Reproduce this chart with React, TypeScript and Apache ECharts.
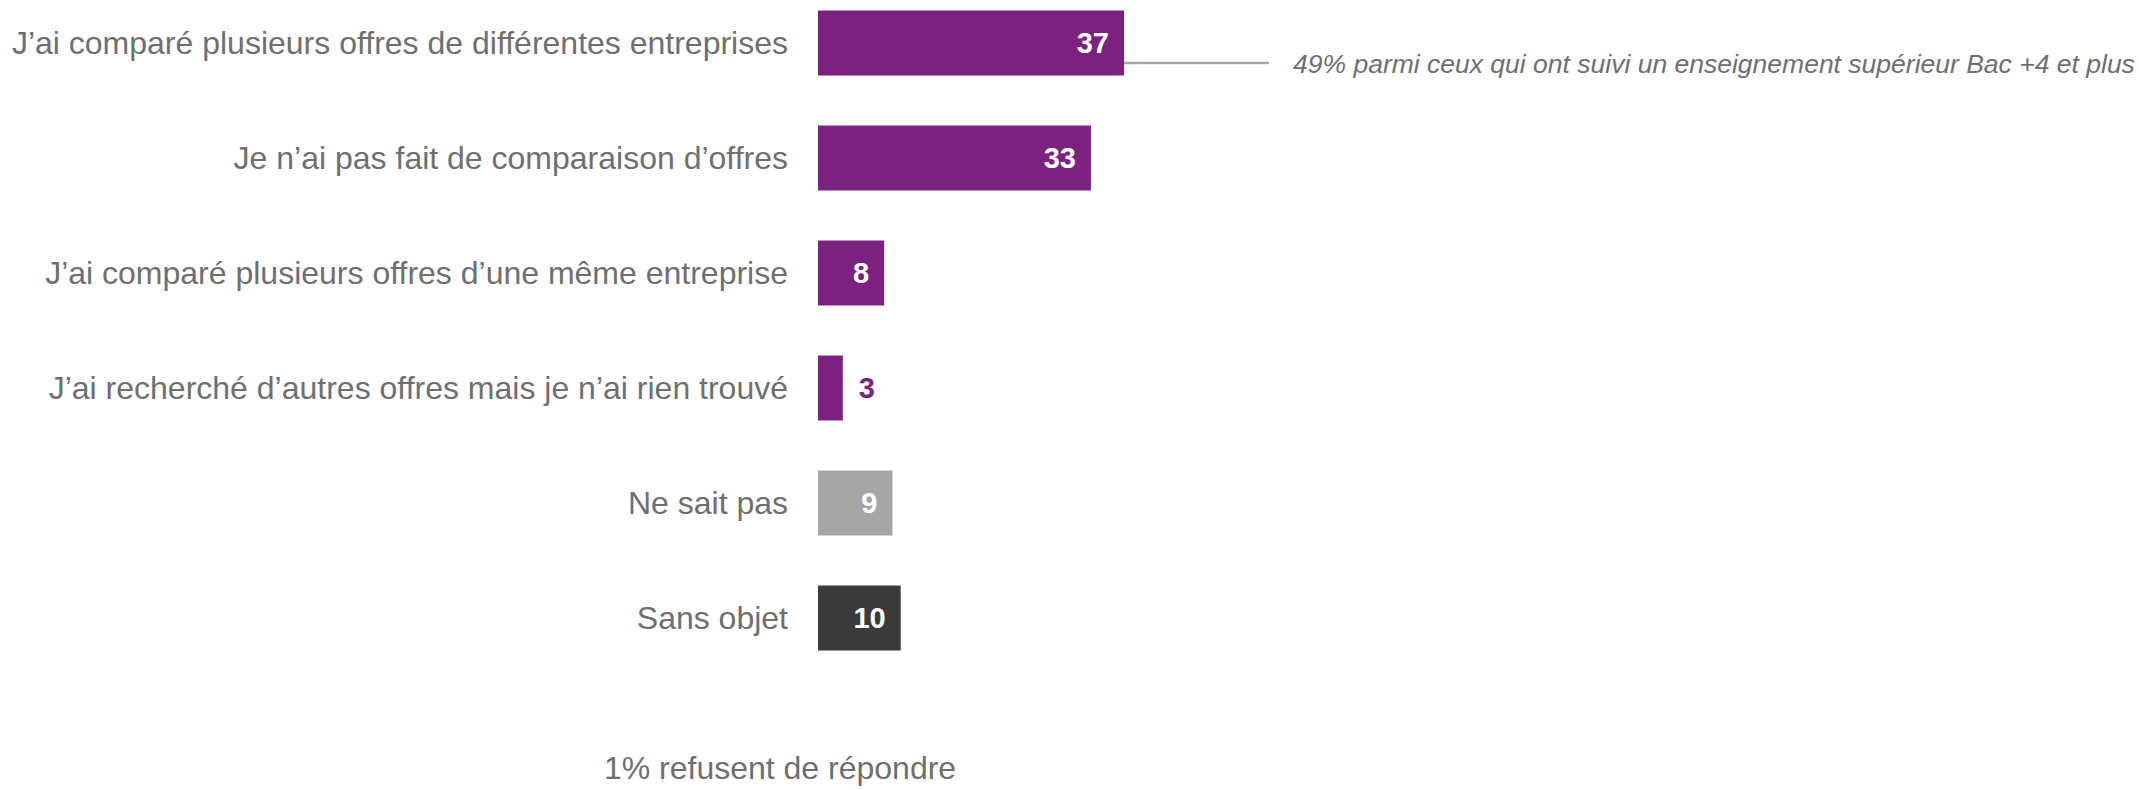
import React, { useEffect, useRef } from "react";
import * as echarts from "echarts";

const categories = [
  "J’ai comparé plusieurs offres de différentes entreprises",
  "Je n’ai pas fait de comparaison d’offres",
  "J’ai comparé plusieurs offres d’une même entreprise",
  "J’ai recherché d’autres offres mais je n’ai rien trouvé",
  "Ne sait pas",
  "Sans objet",
];
const values = [37, 33, 8, 3, 9, 10];
const barColors = ["#7B2180", "#7B2180", "#7B2180", "#7B2180", "#A6A6A6", "#3A3A3A"];
const insideLabel = [true, true, true, false, true, true];
const annotationText = "49% parmi ceux qui ont suivi un enseignement supérieur Bac +4 et plus";
const footnoteText = "1% refusent de répondre";

export default function App() {
  const ref = useRef<HTMLDivElement>(null);
  useEffect(() => {
    document.body.style.margin = "0";
    const chart = echarts.init(ref.current!, null, { renderer: "svg" });
    const font = "Liberation Sans, Arial, sans-serif";
    chart.setOption({
      animation: false,
      grid: { left: 818, right: 494, top: 43, height: 575, containLabel: false },
      xAxis: { type: "value", min: 0, max: 100, show: false },
      yAxis: {
        type: "category",
        data: categories,
        inverse: true,
        boundaryGap: false,
        axisLine: { show: false },
        axisTick: { show: false },
        splitLine: { show: false },
        axisLabel: { color: "#6F6F6F", fontSize: 32, fontFamily: font, margin: 30 },
      },
      series: [
        {
          type: "bar",
          barWidth: 65,
          data: values.map((v, i) => ({
            value: v,
            itemStyle: { color: barColors[i] },
            label: insideLabel[i]
              ? { show: true, position: "insideRight", distance: 15, color: "#FFFFFF" }
              : { show: true, position: "right", distance: 16, color: "#7B2180" },
          })),
          label: { fontSize: 29, fontWeight: "bold", fontFamily: font },
        },
      ],
      graphic: [
        {
          type: "line",
          shape: { x1: 1113, y1: 63, x2: 1269, y2: 63 },
          style: { stroke: "#A6A6A6", lineWidth: 2.5 },
        },
        {
          type: "text",
          x: 1293,
          y: 64,
          style: {
            text: annotationText,
            fill: "#6F6F6F",
            font: `italic 26.5px ${font}`,
            verticalAlign: "middle",
          },
        },
        {
          type: "text",
          x: 780,
          y: 768,
          style: {
            text: footnoteText,
            fill: "#6F6F6F",
            font: `32px ${font}`,
            align: "center",
            verticalAlign: "middle",
          },
        },
      ],
    });
    return () => chart.dispose();
  }, []);
  return <div ref={ref} style={{ width: 2139, height: 790 }} />;
}
